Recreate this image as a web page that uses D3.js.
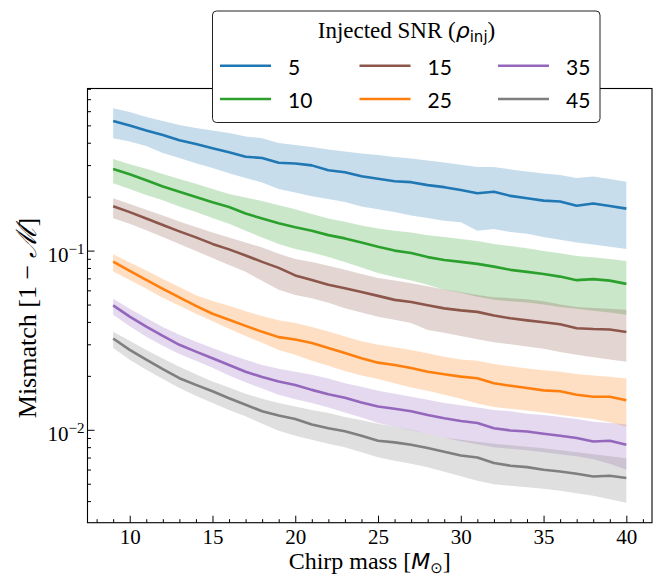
<!DOCTYPE html>
<html>
<head>
<meta charset="utf-8">
<script src="https://cdn.jsdelivr.net/npm/d3@7"></script>
<style>
body { margin: 0; background: #fff; }
svg { display: block; }
</style>
</head>
<body>
<svg id="canvas" width="656" height="578"></svg>
<script>
// chirp mass grid (x)
var chirpMass = [9,10,11,12,13,14,15,16,17,18,19,20,21,22,23,24,25,26,27,28,29,30,31,32,33,34,35,36,37,38,39,40];

var snrLabels = ["5", "10", "15", "25", "35", "45"];
var snrColors = ["#1f77b4", "#2ca02c", "#8c564b", "#ff7f0e", "#9467bd", "#7f7f7f"];

// median mismatch and band edges, one set per injected SNR
var mean5 = [0.529,0.499,0.468,0.442,0.413,0.393,0.3725,0.354,0.334,0.329,0.309,0.306,0.299,0.281,0.274,0.260,0.252,0.244,0.241,0.232,0.226,0.218,0.209,0.213,0.202,0.196,0.190,0.188,0.178,0.183,0.1775,0.1715];
var hi5   = [0.6225,0.594,0.557,0.529,0.5025,0.483,0.468,0.453,0.4335,0.424,0.399,0.389,0.379,0.367,0.3575,0.348,0.342,0.333,0.327,0.3185,0.310,0.301,0.293,0.293,0.284,0.2765,0.2695,0.264,0.254,0.259,0.251,0.2425];
var lo5   = [0.424,0.406,0.384,0.351,0.329,0.307,0.289,0.270,0.254,0.240,0.221,0.211,0.201,0.194,0.187,0.176,0.170,0.164,0.157,0.152,0.147,0.144,0.129,0.132,0.127,0.124,0.119,0.115,0.111,0.108,0.105,0.102];

var mean10 = [0.285,0.267,0.247,0.228,0.213,0.199,0.186,0.175,0.161,0.151,0.142,0.135,0.129,0.122,0.117,0.111,0.105,0.100,0.097,0.092,0.0887,0.0865,0.0843,0.0814,0.0781,0.0761,0.0741,0.0716,0.0684,0.0693,0.0680,0.0652];
var hi10   = [0.325,0.303,0.286,0.268,0.251,0.236,0.221,0.207,0.198,0.189,0.179,0.170,0.160,0.151,0.145,0.138,0.133,0.129,0.126,0.122,0.119,0.116,0.113,0.109,0.106,0.103,0.0996,0.0967,0.0934,0.0919,0.0899,0.0876];
var lo10   = [0.238,0.221,0.2045,0.191,0.1765,0.164,0.152,0.141,0.129,0.1185,0.109,0.102,0.0977,0.0922,0.0865,0.0806,0.0751,0.0713,0.0681,0.0644,0.0604,0.0581,0.0552,0.0531,0.0521,0.0514,0.0501,0.0485,0.0473,0.0461,0.0452,0.0438];

var mean15 = [0.177,0.164,0.151,0.139,0.128,0.1185,0.109,0.1016,0.094,0.0865,0.0801,0.0727,0.0686,0.0644,0.0617,0.0588,0.0559,0.0531,0.0517,0.0495,0.0476,0.0464,0.0455,0.0434,0.0419,0.0408,0.0398,0.0388,0.0369,0.0365,0.0363,0.0351];
var hi15   = [0.196,0.182,0.169,0.157,0.1455,0.1356,0.1264,0.1185,0.111,0.104,0.0959,0.0899,0.0865,0.0822,0.0781,0.0741,0.0704,0.0681,0.0658,0.0632,0.0607,0.0588,0.0566,0.0550,0.0543,0.0536,0.0521,0.0501,0.0485,0.0479,0.0473,0.0467];
var lo15   = [0.1516,0.141,0.130,0.119,0.109,0.0996,0.091,0.0832,0.0761,0.0678,0.0604,0.0566,0.0543,0.0511,0.0477,0.0452,0.0428,0.0411,0.0394,0.0361,0.0348,0.0334,0.0320,0.0308,0.0300,0.0292,0.0283,0.0272,0.0262,0.0254,0.0247,0.0240];

var mean25 = [0.0868,0.0770,0.0686,0.0612,0.0548,0.0492,0.0444,0.0411,0.0380,0.0352,0.0329,0.0319,0.0305,0.0286,0.0268,0.0251,0.0237,0.0230,0.0221,0.0211,0.0204,0.0198,0.0194,0.0182,0.0176,0.0171,0.0166,0.0164,0.0157,0.0153,0.0153,0.0146];
var hi25   = [0.0955,0.0859,0.0775,0.0695,0.0627,0.0563,0.0524,0.0492,0.0458,0.0432,0.0408,0.0395,0.0375,0.0354,0.0332,0.0312,0.0298,0.0289,0.0279,0.0267,0.0256,0.0247,0.0243,0.0233,0.0226,0.0220,0.0215,0.0211,0.0205,0.0201,0.0198,0.0193];
var lo25   = [0.0764,0.0686,0.0612,0.0545,0.0492,0.0444,0.0403,0.0366,0.0334,0.0306,0.0279,0.0262,0.0243,0.0228,0.0213,0.0201,0.0192,0.0182,0.0172,0.0165,0.0157,0.0149,0.0140,0.0134,0.0131,0.0128,0.0125,0.0121,0.0118,0.0115,0.0110,0.0104];

var mean35 = [0.0495,0.0428,0.0377,0.0334,0.0298,0.0273,0.0251,0.0230,0.0211,0.0197,0.0186,0.0178,0.0167,0.0158,0.0151,0.0142,0.0135,0.0131,0.0127,0.0121,0.0116,0.0112,0.0109,0.0102,0.00991,0.00978,0.00950,0.00926,0.00899,0.00860,0.00868,0.00825];
var hi35   = [0.0538,0.0473,0.0420,0.0375,0.0339,0.0310,0.0286,0.0264,0.0246,0.0230,0.0219,0.0211,0.0203,0.0193,0.0182,0.0174,0.0165,0.0159,0.0153,0.0147,0.0141,0.0137,0.0133,0.0129,0.0127,0.0123,0.0121,0.0118,0.0115,0.0111,0.0109,0.0107];
var lo35   = [0.0438,0.0378,0.0331,0.0294,0.0265,0.0243,0.0222,0.0201,0.0184,0.0170,0.0157,0.0148,0.0141,0.0133,0.0125,0.0117,0.0109,0.0104,0.00994,0.00950,0.00902,0.00863,0.00830,0.00799,0.00784,0.00769,0.00749,0.00730,0.00712,0.00685,0.00646,0.00598];

var mean45 = [0.0323,0.0279,0.0246,0.0218,0.0194,0.0178,0.0164,0.0150,0.0138,0.0127,0.0120,0.0115,0.0107,0.0102,0.00981,0.00926,0.00868,0.00851,0.00825,0.00791,0.00754,0.00719,0.00701,0.00652,0.00630,0.00619,0.00598,0.00585,0.00568,0.00549,0.00554,0.00538];
var hi45   = [0.0353,0.0314,0.0279,0.0250,0.0225,0.0204,0.0186,0.0172,0.0159,0.0149,0.0141,0.0135,0.0129,0.0124,0.0118,0.0113,0.0108,0.0104,0.0100,0.00950,0.00902,0.00880,0.00857,0.00835,0.00820,0.00804,0.00789,0.00769,0.00749,0.00730,0.00712,0.00694];
var lo45   = [0.0286,0.0246,0.0216,0.0192,0.0171,0.0155,0.0141,0.0129,0.0119,0.0108,0.00987,0.00926,0.00880,0.00835,0.00799,0.00749,0.00702,0.00672,0.00646,0.00618,0.00583,0.00550,0.00519,0.00497,0.00487,0.00478,0.00469,0.00457,0.00442,0.00428,0.00410,0.00392];

var means = [mean5, mean10, mean15, mean25, mean35, mean45];
var highs = [hi5, hi10, hi15, hi25, hi35, hi45];
var lows  = [lo5, lo10, lo15, lo25, lo35, lo45];

// ticks
var xMajor = [10, 15, 20, 25, 30, 35, 40];
var xMinor = [8,9,11,12,13,14,16,17,18,19,21,22,23,24,26,27,28,29,31,32,33,34,36,37,38,39,41];
var yMajor = [0.01, 0.1];
var yMajorExp = ["\u22122", "\u22121"];
var yMinor = [0.004,0.005,0.006,0.007,0.008,0.009,0.02,0.03,0.04,0.05,0.06,0.07,0.08,0.09,0.2,0.3,0.4,0.5,0.6,0.7,0.8];

var serif = "'Liberation Serif', 'Times New Roman', serif";
var sans = "'DejaVu Sans', sans-serif";

var svg = d3.select("#canvas");

// plot box (window.top is reserved, hence the prefix)
var axLeft = 87.5, axRight = 652, axTop = 88.5, axBottom = 522.7;

var x = d3.scaleLinear().domain([7.45, 41.55]).range([axLeft, axRight]);
var y = d3.scaleLog().domain([0.00303, 0.803]).range([axBottom, axTop]);

var plot = svg.append("g");

// bands first, then the median lines on top
means.forEach(function(m, i) {
    var rows = chirpMass.map(function(c, j) { return {c: c, lo: lows[i][j], hi: highs[i][j]}; });
    var area = d3.area()
        .x(function(d) { return x(d.c); })
        .y0(function(d) { return y(d.lo); })
        .y1(function(d) { return y(d.hi); });
    plot.append("path")
        .datum(rows)
        .attr("d", area)
        .attr("fill", snrColors[i])
        .attr("fill-opacity", 0.25);
});

means.forEach(function(m, i) {
    var rows = chirpMass.map(function(c, j) { return {c: c, v: m[j]}; });
    var line = d3.line()
        .x(function(d) { return x(d.c); })
        .y(function(d) { return y(d.v); });
    plot.append("path")
        .datum(rows)
        .attr("d", line)
        .attr("fill", "none")
        .attr("stroke", snrColors[i])
        .attr("stroke-width", 2.6)
        .attr("stroke-linejoin", "round");
});

// axes, ticks point inward
var gx = svg.append("g").attr("transform", "translate(0," + axBottom + ")");
gx.call(d3.axisBottom(x).tickValues(xMajor).tickSize(-7).tickPadding(6).tickFormat(d3.format("d")));
gx.append("g").call(d3.axisBottom(x).tickValues(xMinor.filter(function(v) { return v > 7.45 && v < 41.55; })).tickSize(-3.5).tickFormat(""));

var gy = svg.append("g").attr("transform", "translate(" + axLeft + ",0)");
gy.call(d3.axisLeft(y).tickValues(yMajor).tickSize(-7).tickPadding(3).tickFormat(function() { return ""; }));
gy.append("g").call(d3.axisLeft(y).tickValues(yMinor.filter(function(v) { return v > 0.00303 && v < 0.803; })).tickSize(-3.5).tickFormat(""));

svg.selectAll(".domain").remove();
svg.selectAll(".tick line").attr("stroke", "#000").attr("stroke-width", 1);

gx.selectAll(".tick text")
    .attr("font-family", serif)
    .attr("font-size", 21)
    .attr("fill", "#000");

gy.selectAll(".tick text").each(function(d) {
    var k = yMajor.indexOf(d);
    if (k < 0) return;
    var t = d3.select(this)
        .attr("font-family", serif)
        .attr("font-size", 21)
        .attr("fill", "#000")
        .attr("dy", "0.5em");
    t.append("tspan").text("10");
    t.append("tspan").attr("dy", "-0.5em").attr("font-size", 15).text(yMajorExp[k]);
});

// frame
svg.append("rect")
    .attr("x", axLeft).attr("y", axTop)
    .attr("width", axRight - axLeft).attr("height", axBottom - axTop)
    .attr("fill", "none")
    .attr("stroke", "#000")
    .attr("stroke-width", 1.1);

// axis labels
var xl = svg.append("text")
    .attr("x", (axLeft + axRight) / 2)
    .attr("y", 569)
    .attr("text-anchor", "middle")
    .attr("font-family", serif)
    .attr("font-size", 24)
    .attr("fill", "#000");
xl.append("tspan").text("Chirp mass [");
xl.append("tspan").attr("font-family", sans).attr("font-style", "italic").attr("font-size", 22).text("M");
xl.append("tspan").attr("font-family", sans).attr("font-size", 15).attr("dy", 4).text("\u2299");
xl.append("tspan").attr("dy", -4).text("]");

var yl = svg.append("text")
    .attr("transform", "translate(36,318) rotate(-90)")
    .attr("text-anchor", "middle")
    .attr("font-family", serif)
    .attr("font-size", 26)
    .attr("fill", "#000");
yl.append("tspan").text("Mismatch [1 \u2212 ");
yl.append("tspan").attr("font-style", "italic").attr("font-size", 28).text("\u2133");
yl.append("tspan").text("]");

// legend
var lg = svg.append("g");
lg.append("rect")
    .attr("x", 212.5).attr("y", 11)
    .attr("width", 387.5).attr("height", 111.5)
    .attr("rx", 4)
    .attr("fill", "#fff")
    .attr("stroke", "#222")
    .attr("stroke-width", 1);

var title = lg.append("text")
    .attr("x", 406.5).attr("y", 38)
    .attr("text-anchor", "middle")
    .attr("font-family", serif)
    .attr("font-size", 23)
    .attr("fill", "#000");
title.append("tspan").text("Injected SNR (");
title.append("tspan").attr("font-family", sans).attr("font-style", "italic").attr("font-size", 22).text("\u03c1");
title.append("tspan").attr("font-family", sans).attr("font-size", 15).attr("dy", 4).text("inj");
title.append("tspan").attr("dy", -4).text(")");

var colX = [220, 359.5, 498];
var rowY = [65.7, 99];
snrLabels.forEach(function(lab, i) {
    var cx = colX[Math.floor(i / 2)], cy = rowY[i % 2];
    lg.append("line")
        .attr("x1", cx).attr("x2", cx + 51)
        .attr("y1", cy).attr("y2", cy)
        .attr("stroke", snrColors[i])
        .attr("stroke-width", 2.6);
    lg.append("text")
        .attr("x", cx + 68).attr("y", cy + 9)
        .attr("font-family", "Lato, sans-serif")
        .attr("font-size", 21)
        .attr("fill", "#000")
        .text(lab);
});
</script>
</body>
</html>
